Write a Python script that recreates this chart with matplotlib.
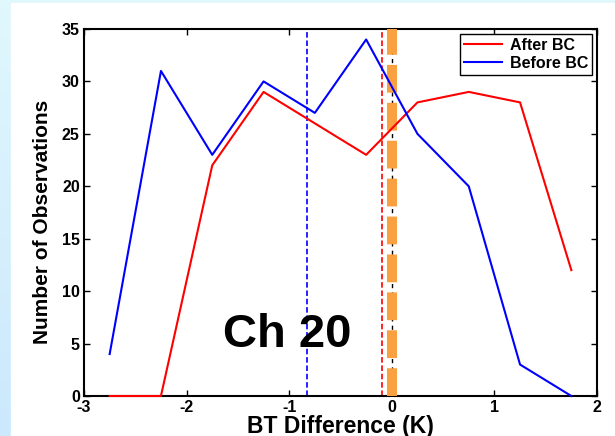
import numpy as np
import matplotlib.pyplot as plt
from matplotlib.patches import Rectangle

plt.rcParams['font.family'] = ['Liberation Sans', 'DejaVu Sans']
plt.rcParams['font.weight'] = 'bold'
plt.rcParams['axes.unicode_minus'] = False
plt.rcParams['lines.scale_dashes'] = False

bt_diff = [-2.75, -2.25, -1.75, -1.25, -0.75, -0.25, 0.25, 0.75, 1.25, 1.75]
after_bc = [0, 0, 22, 29, 26, 23, 28, 29, 28, 12]
before_bc = [4, 31, 23, 30, 27, 34, 25, 20, 3, 0]
mean_before = -0.83
mean_after = -0.1

fig = plt.figure(figsize=(6.15, 4.36), dpi=100)
fig.patch.set_facecolor('white')

# light blue page border (left and top strip)
grad = np.linspace(0, 1, 256).reshape(-1, 1)
bg = fig.add_axes([0, 0, 1, 1], zorder=-10)
bg.imshow(np.dstack([np.full_like(grad, 0.80) + 0.08 * grad,
                     np.full_like(grad, 0.91) + 0.06 * grad,
                     np.full_like(grad, 0.99)]),
          aspect='auto', extent=[0, 1, 0, 1], origin='lower')
bg.add_patch(Rectangle((11 / 615, 0), 1, 1 - 3 / 436, color='white'))
bg.set_xlim(0, 1)
bg.set_ylim(0, 1)
bg.axis('off')

ax = fig.add_axes([84 / 615, 1 - 396 / 436, (597 - 84) / 615, (396 - 29) / 436])

ax.plot(bt_diff, after_bc, color='red', linewidth=1.5, label='After BC',
        clip_on=False, zorder=4)
ax.plot(bt_diff, before_bc, color='blue', linewidth=1.5, label='Before BC',
        clip_on=False, zorder=4)

ax.axvline(mean_before, color='blue', linestyle=(0, (4, 2)), linewidth=1.2)
ax.axvline(mean_after, color='red', linestyle=(0, (4, 2)), linewidth=1.2)
ax.axvline(0, color='black', linestyle=(0, (3, 3)), linewidth=1.0, zorder=2)
ax.axvline(0, color='#f9a040', linestyle=(0, (20, 7.3)), linewidth=7.2, zorder=3)

ax.text(-1.02, 5.8, 'Ch 20', fontsize=34, fontweight='bold', ha='center', va='center')

ax.set_xlim(-3, 2)
ax.set_ylim(0, 35)
ax.set_xticks([-3, -2, -1, 0, 1, 2])
ax.set_yticks(range(0, 36, 5))
ax.tick_params(direction='in', top=True, right=True, labelsize=11.5, length=4, width=1, pad=3)
for lbl in ax.get_xticklabels() + ax.get_yticklabels():
    lbl.set_fontweight('bold')
for sp in ax.spines.values():
    sp.set_linewidth(1.5)

ax.set_xlabel('BT Difference (K)', fontsize=16.5, fontweight='bold', labelpad=0)
ax.set_ylabel('Number of Observations', fontsize=15, fontweight='bold')
ax.yaxis.set_label_coords(-0.062, 0.474)

leg = ax.legend(loc='upper right', fontsize=11.5, fancybox=False, framealpha=1,
                edgecolor='black', borderaxespad=0.3, handlelength=2.4,
                borderpad=0.25, labelspacing=0.2, handletextpad=0.5)
leg.get_frame().set_linewidth(1.0)

fig.savefig('out.png', dpi=100)
